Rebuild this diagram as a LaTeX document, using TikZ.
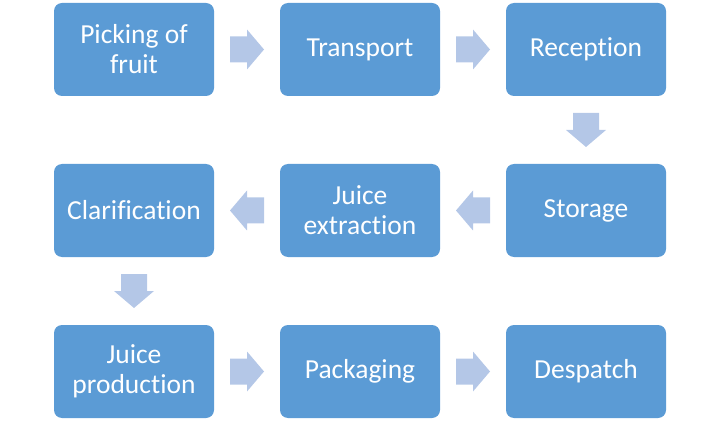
\documentclass[tikz,border=0pt]{standalone}
\usepackage{fontspec}
\setmainfont[Ligatures={NoCommon}]{Carlito}
\usetikzlibrary{calc}
\definecolor{boxblue}{HTML}{5B9BD5}
\definecolor{arrowblue}{HTML}{B4C7E7}
\begin{document}
\begin{tikzpicture}[x=1pt,y=-1pt,
  stepbox/.style={fill=boxblue, rounded corners=8pt, minimum width=160pt, minimum height=93pt,
    inner sep=0pt, text=white, align=center, font=\fontsize{27.5}{30}\selectfont},
  blockarrow/.pic={\fill[arrowblue] (-17,-13) -- (0,-13) -- (0,-20) -- (17,0) -- (0,20) -- (0,13) -- (-17,13) -- cycle;}
]
\useasboundingbox (0,0) rectangle (720,422);
\node[stepbox] (n1) at (134,49.5) {Picking of\\fruit};
\node[stepbox] (n2) at (360,49.5) {Transport};
\node[stepbox] (n3) at (586,49.5) {Reception};
\node[stepbox] (n4) at (586,210.5) {Storage};
\node[stepbox] (n5) at (360,210.5) {Juice\\extraction};
\node[stepbox] (n6) at (134,210.5) {Clarification};
\node[stepbox] (n7) at (134,371.5) {Juice\\production};
\node[stepbox] (n8) at (360,371.5) {Packaging};
\node[stepbox] (n9) at (586,371.5) {Despatch};
\path ($(n1.east)!0.5!(n2.west)$) pic {blockarrow};
\path ($(n2.east)!0.5!(n3.west)$) pic {blockarrow};
\path ($(n3.south)!0.5!(n4.north)$) pic[rotate=-90] {blockarrow};
\path ($(n4.west)!0.5!(n5.east)$) pic[rotate=180] {blockarrow};
\path ($(n5.west)!0.5!(n6.east)$) pic[rotate=180] {blockarrow};
\path ($(n6.south)!0.5!(n7.north)$) pic[rotate=-90] {blockarrow};
\path ($(n7.east)!0.5!(n8.west)$) pic {blockarrow};
\path ($(n8.east)!0.5!(n9.west)$) pic {blockarrow};
\end{tikzpicture}
\end{document}
